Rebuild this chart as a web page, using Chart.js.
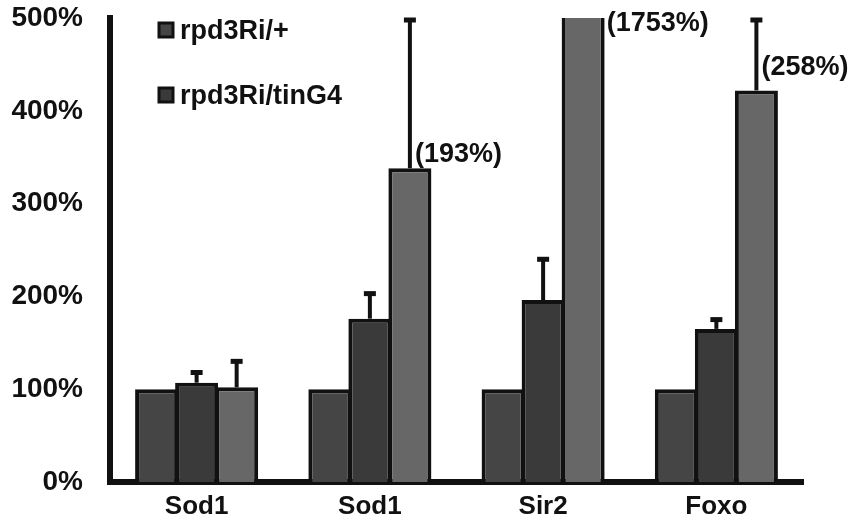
<!DOCTYPE html>
<html>
<head>
<meta charset="utf-8">
<script src="https://cdn.jsdelivr.net/npm/chart.js@4/dist/chart.umd.min.js"></script>
<style>
  html, body { margin: 0; padding: 0; background: #fff; }
</style>
</head>
<body>
<canvas id="expChart" width="858" height="522"></canvas>
<script>
// relative expression (% of rpd3Ri/+)
const genes = ['Sod1', 'Sod1', 'Sir2', 'Foxo'];
const seriesNames = ['rpd3Ri/+', 'rpd3Ri/tinG4', ''];
const controlVals = [100, 100, 100, 100];
const tinG4Vals = [107, 176, 196, 165];
const thirdVals = [102, 338, 1753, 422];
const controlErr = [0, 0, 0, 0];
const tinG4Err = [11, 27, 44, 10];
const thirdErr = [28, 193, 0, 258];
const yTicks = [0, 100, 200, 300, 400, 500];

const FONT = 'Liberation Sans, Arial, sans-serif';
const INK = '#111111';
const fills = ['#454545', '#3a3a3a', '#676767'];

// error bars, clipped to the top of the plot
const errorBars = {
    id: 'errorBars',
    afterDatasetsDraw(chart) {
        const ctx = chart.ctx;
        const area = chart.chartArea;
        const y = chart.scales.y;
        ctx.save();
        ctx.strokeStyle = INK;
        chart.data.datasets.forEach((ds, di) => {
            let meta = chart.getDatasetMeta(di);
            meta.data.forEach((bar, i) => {
                let e = ds.errors[i];
                let v = ds.data[i];
                if (!e || v >= y.max) return;
                let top = Math.max(y.getPixelForValue(v + e), area.top + 2);
                ctx.lineWidth = 4;
                ctx.beginPath();
                ctx.moveTo(bar.x, bar.y);
                ctx.lineTo(bar.x, top);
                ctx.stroke();
                ctx.lineWidth = 5;
                ctx.beginPath();
                ctx.moveTo(bar.x - 6, top);
                ctx.lineTo(bar.x + 6, top);
                ctx.stroke();
            });
        });
        ctx.restore();
    }
};

// values that run off the scale get written next to the bar
const offScaleNotes = {
    id: 'offScaleNotes',
    afterDraw(chart) {
        const ctx = chart.ctx;
        const area = chart.chartArea;
        const y = chart.scales.y;
        const di = 2;
        const ds = chart.data.datasets[di];
        const meta = chart.getDatasetMeta(di);
        ctx.save();
        ctx.fillStyle = INK;
        ctx.font = 'bold 27px ' + FONT;
        ctx.textAlign = 'left';
        ctx.textBaseline = 'middle';
        meta.data.forEach((bar, i) => {
            let v = ds.data[i];
            let e = ds.errors[i];
            if (v > y.max) {
                ctx.fillText('(' + v + '%)', bar.x + bar.width / 2 + 2, area.top + 6);
            } else if (v + e > y.max) {
                let lift = v > 400 ? 23 : 14;
                ctx.fillText('(' + e + '%)', bar.x + 5, bar.y - lift);
            }
        });
        ctx.restore();
    }
};

// two-entry legend sitting inside the plot
const innerLegend = {
    id: 'innerLegend',
    afterDraw(chart) {
        const ctx = chart.ctx;
        ctx.save();
        ctx.font = 'bold 27px ' + FONT;
        ctx.textBaseline = 'middle';
        ctx.textAlign = 'left';
        let row = 0;
        chart.data.datasets.forEach(ds => {
            if (!ds.label) return;
            let by = 23 + row * 65;
            ctx.fillStyle = ds.backgroundColor;
            ctx.fillRect(159, by, 14, 14);
            ctx.strokeStyle = INK;
            ctx.lineWidth = 3;
            ctx.strokeRect(159, by, 14, 14);
            ctx.fillStyle = INK;
            ctx.fillText(ds.label, 180, by + 9);
            row++;
        });
        ctx.restore();
    }
};

const values = [controlVals, tinG4Vals, thirdVals];
const errors = [controlErr, tinG4Err, thirdErr];

// keep tick labels from pushing the plot area around
function noOverhang(s) {
    s.paddingTop = 0;
    s.paddingBottom = 0;
    s.paddingLeft = 0;
    s.paddingRight = 0;
}

new Chart(document.getElementById('expChart'), {
    type: 'bar',
    data: {
        labels: genes,
        datasets: values.map((vals, k) => ({
            label: seriesNames[k],
            data: vals,
            errors: errors[k],
            backgroundColor: fills[k],
            borderColor: INK,
            borderWidth: 4,
            borderSkipped: 'start',
            categoryPercentage: 0.693,
            barPercentage: 1.075,
            clip: 0
        }))
    },
    options: {
        responsive: false,
        animation: false,
        layout: { padding: { top: 18, right: 55, bottom: 0, left: 0 } },
        plugins: {
            legend: { display: false },
            tooltip: { enabled: false }
        },
        scales: {
            x: {
                grid: { display: false, drawTicks: false },
                border: { display: true, color: INK, width: 6 },
                ticks: {
                    color: INK,
                    padding: 9,
                    font: { family: FONT, size: 26, weight: 'bold' }
                },
                afterFit(s) { s.height = 40; noOverhang(s); }
            },
            y: {
                min: 0,
                max: 500,
                afterBuildTicks(s) { s.ticks = yTicks.map(v => ({ value: v })); },
                grid: { display: false, drawTicks: false },
                border: { display: true, color: INK, width: 6 },
                ticks: {
                    color: INK,
                    padding: 27,
                    font: { family: FONT, size: 28, weight: 'bold' },
                    callback: v => v + '%'
                },
                afterFit(s) { s.width = 110; noOverhang(s); }
            }
        }
    },
    plugins: [errorBars, offScaleNotes, innerLegend]
});
</script>
</body>
</html>
